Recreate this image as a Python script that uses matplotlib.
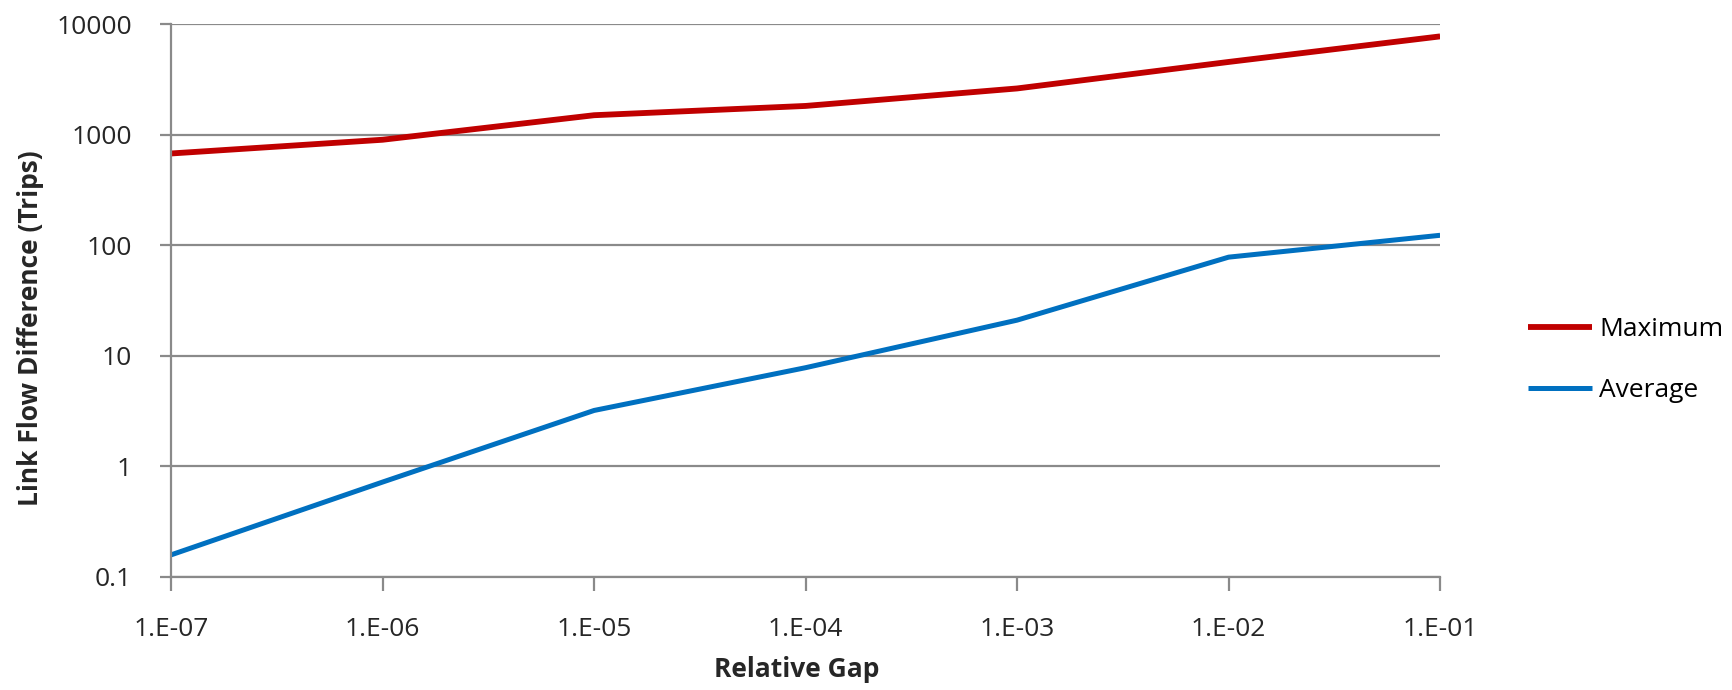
import matplotlib.pyplot as plt
from matplotlib.ticker import FixedLocator, NullLocator

# values
relative_gap = [1e-7, 1e-6, 1e-5, 1e-4, 1e-3, 1e-2, 1e-1]
gap_labels = ["1.E-07", "1.E-06", "1.E-05", "1.E-04", "1.E-03", "1.E-02", "1.E-01"]
maximum = [676, 900, 1500, 1820, 2620, 4550, 7750]
average = [0.158, 0.72, 3.2, 7.8, 21, 78, 123]
y_ticks = [0.1, 1, 10, 100, 1000, 10000]
y_labels = ["0.1", "1", "10", "100", "1000", "10000"]

plt.rcParams['font.family'] = ['Open Sans', 'DejaVu Sans']

fig = plt.figure(figsize=(17.33, 6.9), dpi=100)
ax = fig.add_axes([0.0987, 0.164, 0.7323, 0.801])

ax.plot(relative_gap, maximum, color='#C00000', linewidth=4.2, label='Maximum',
        solid_capstyle='butt')
ax.plot(relative_gap, average, color='#0070C0', linewidth=3.6, label='Average',
        solid_capstyle='butt')

ax.set_xscale('log')
ax.set_yscale('log')
ax.set_xlim(1e-7, 1e-1)
ax.set_ylim(0.1, 10000)

ax.xaxis.set_major_locator(FixedLocator(relative_gap))
ax.xaxis.set_minor_locator(NullLocator())
ax.set_xticklabels(gap_labels)
ax.yaxis.set_major_locator(FixedLocator(y_ticks))
ax.yaxis.set_minor_locator(NullLocator())
ax.set_yticklabels(y_labels)

ax.grid(True, axis='y', color='#8a8a8a', linewidth=1.6)
ax.set_axisbelow(True)
for side in ['top', 'right']:
    ax.spines[side].set_visible(False)
for side in ['left', 'bottom']:
    ax.spines[side].set_color('#8a8a8a')
    ax.spines[side].set_linewidth(1.6)
ax.tick_params(axis='both', colors='#8a8a8a', width=1.6,
               labelsize=19, labelcolor='#262626')
ax.tick_params(axis='x', length=10, pad=19)
ax.tick_params(axis='y', length=8, pad=20)

ax.set_xlabel('Relative Gap', fontsize=19, fontweight='bold', color='#262626')
ax.set_ylabel('Link Flow Difference (Trips)', fontsize=19, fontweight='bold',
              color='#262626')
ax.xaxis.set_label_coords(0.493, -0.143)
ax.yaxis.set_label_coords(-0.100, 0.45)

ax.legend(loc='center left', bbox_to_anchor=(1.069, 0.392), frameon=False,
          fontsize=19, handlelength=2.45, handletextpad=0.27, labelspacing=1.35,
          borderaxespad=0, borderpad=0)

fig.savefig('out.png', dpi=100, facecolor='white')
